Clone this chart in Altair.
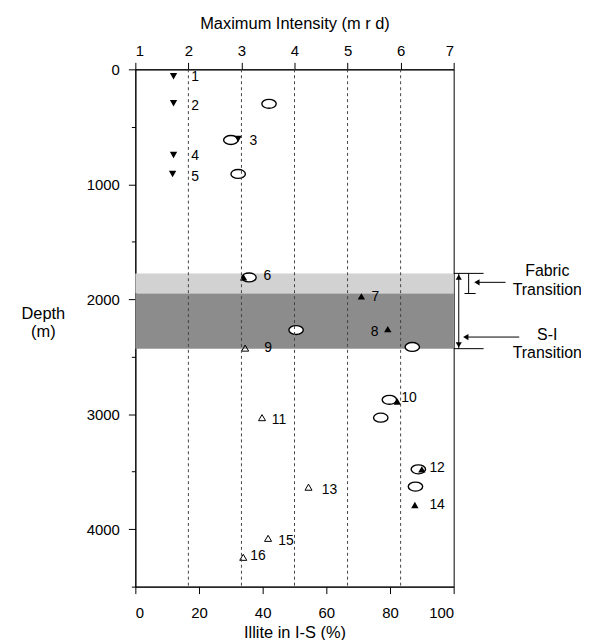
import altair as alt
import pandas as pd

# ---- data ----
down_x = [12, 12, 32.3, 12, 11.7]
down_y = [60, 295, 605, 745, 910]

up_x = [34, 71, 79.3, 82.3, 90, 87.8]
up_y = [1810, 1975, 2260, 2890, 3480, 3790]

open_x = [34.5, 39.8, 54.4, 41.7, 33.9]
open_y = [2425, 3030, 3635, 4080, 4245]

ell_x = [42, 30, 32.3, 35.7, 50.5, 87, 79.8, 77.1, 88.9, 88]
ell_y = [300, 615, 910, 1810, 2268, 2415, 2875, 3030, 3480, 3630]

lab_text = [str(i) for i in range(1, 17)]
lab_x = [18.8, 18.8, 37.1, 18.8, 18.8, 41.5, 75.4, 75.2, 41.7, 86, 45.1, 94.8, 61, 94.8, 47.3, 38.5]
lab_y = [70, 320, 625, 755, 940, 1800, 1980, 2285, 2425, 2860, 3050, 3470, 3660, 3790, 4105, 4235]

band_y1 = [1775, 1950]
band_y2 = [1950, 2430]
band_col = ["#d2d2d2", "#8c8c8c"]

intensity_lines = [2, 3, 4, 5, 6]

# annotation geometry (data units: % illite, depth m)
cap_x1 = [100, 100, 103.4]
cap_x2 = [109.4, 109.4, 106.9]
cap_y = [1775, 2430, 1950]
vbar_x = [101.6, 104.7]
vbar_y1 = [1775, 1775]
vbar_y2 = [2430, 1950]
arr_x1 = [107.4, 103.9]
arr_x2 = [116.3, 120.6]
arr_y = [1853, 2329]
head_x = [107.3, 103.8, 101.6, 101.6]
head_y = [1853, 2329, 1808, 2397]
head_shape = ["triangle-left", "triangle-left", "triangle-up", "triangle-down"]
ann_text = ["Fabric", "Transition", "S-I", "Transition"]
ann_x = [129.4, 129.4, 129.4, 129.4]
ann_y = [1758, 1922, 2312, 2468]

FONT = "Liberation Sans"
W, H = 320, 520

xs = alt.Scale(domain=[0, 100], nice=False)
ys = alt.Scale(domain=[0, 4500], nice=False, reverse=True)

bands = pd.DataFrame({"y1": band_y1, "y2": band_y2, "c": band_col, "x1": [0, 0], "x2": [100, 100]})
band_layer = alt.Chart(bands).mark_rect().encode(
    x=alt.X("x1:Q", scale=xs, axis=alt.Axis(
        values=list(range(0, 101, 10)),
        labelExpr="datum.value % 20 === 0 ? datum.label : ''",
        tickSize={"condition": {"test": "datum.value % 20 === 0", "value": 7}, "value": 4},
        tickColor="black", domainColor="black", labelColor="black",
        labelFont=FONT, labelFontSize=15, labelPadding=12,
        title="Illite in I-S (%)", titleFont=FONT, titleFontSize=16.5,
        titleFontWeight="normal", titleColor="black", titlePadding=4,
        grid=False, orient="bottom")),
    x2="x2:Q",
    y=alt.Y("y1:Q", scale=ys, axis=alt.Axis(
        values=list(range(0, 4501, 500)),
        labelExpr="(datum.value % 1000 === 0 && datum.value < 4500) ? datum.label : ''",
        tickSize={"condition": {"test": "datum.value % 1000 === 0", "value": 7}, "value": 4},
        format="d",
        tickColor="black", domainColor="black", labelColor="black",
        labelFont=FONT, labelFontSize=15, labelPadding=9,
        title=["Depth", "(m)"], titleFont=FONT, titleFontSize=16.5,
        titleFontWeight="normal", titleColor="black", titleAngle=0,
        titleAlign="center", titleBaseline="middle", titleX=-93, titleY=245,
        grid=False)),
    y2="y2:Q",
    color=alt.Color("c:N", scale=None),
)

ell_path = "M-1,0A1,0.62,0,1,1,1,0A1,0.62,0,1,1,-1,0Z"
ell = pd.DataFrame({"x": ell_x, "y": ell_y})
ell_layer = alt.Chart(ell).mark_point(
    shape=ell_path, size=210, filled=True, fill="white", stroke="black", strokeWidth=1.4, opacity=1
).encode(x=alt.X("x:Q", scale=xs), y=alt.Y("y:Q", scale=ys))

down = pd.DataFrame({"x": down_x, "y": down_y})
down_layer = alt.Chart(down).mark_point(
    shape="triangle-down", size=55, filled=True, color="black", opacity=1
).encode(x=alt.X("x:Q", scale=xs), y=alt.Y("y:Q", scale=ys))

up = pd.DataFrame({"x": up_x, "y": up_y})
up_layer = alt.Chart(up).mark_point(
    shape="triangle-up", size=55, filled=True, color="black", opacity=1
).encode(x=alt.X("x:Q", scale=xs), y=alt.Y("y:Q", scale=ys))

op = pd.DataFrame({"x": open_x, "y": open_y})
open_layer = alt.Chart(op).mark_point(
    shape="triangle-up", size=50, filled=False, stroke="black", strokeWidth=1, opacity=1
).encode(x=alt.X("x:Q", scale=xs), y=alt.Y("y:Q", scale=ys))

labs = pd.DataFrame({"t": lab_text, "x": lab_x, "y": lab_y})
lab_layer = alt.Chart(labs).mark_text(
    font=FONT, fontSize=14, color="black", align="center", baseline="middle"
).encode(x=alt.X("x:Q", scale=xs), y=alt.Y("y:Q", scale=ys), text="t:N")

caps = pd.DataFrame({"x1": cap_x1, "x2": cap_x2, "y": cap_y})
cap_layer = alt.Chart(caps).mark_rule(color="black", strokeWidth=1).encode(
    x=alt.X("x1:Q", scale=xs), x2="x2:Q", y=alt.Y("y:Q", scale=ys))

vbar = pd.DataFrame({"x": vbar_x, "y1": vbar_y1, "y2": vbar_y2})
vbar_layer = alt.Chart(vbar).mark_rule(color="black", strokeWidth=1).encode(
    x=alt.X("x:Q", scale=xs), y=alt.Y("y1:Q", scale=ys), y2="y2:Q")

arr = pd.DataFrame({"x1": arr_x1, "x2": arr_x2, "y": arr_y})
arr_layer = alt.Chart(arr).mark_rule(color="black", strokeWidth=1).encode(
    x=alt.X("x1:Q", scale=xs), x2="x2:Q", y=alt.Y("y:Q", scale=ys))

heads = pd.DataFrame({"x": head_x, "y": head_y, "s": head_shape})
head_layer = alt.Chart(heads).mark_point(size=38, filled=True, color="black", opacity=1).encode(
    x=alt.X("x:Q", scale=xs), y=alt.Y("y:Q", scale=ys),
    shape=alt.Shape("s:N", scale=None))

ann = pd.DataFrame({"t": ann_text, "x": ann_x, "y": ann_y})
ann_layer = alt.Chart(ann).mark_text(
    font=FONT, fontSize=16, color="black", align="center", baseline="middle"
).encode(x=alt.X("x:Q", scale=xs), y=alt.Y("y:Q", scale=ys), text="t:N")

base = alt.layer(band_layer, ell_layer, down_layer, up_layer, open_layer, lab_layer,
                 cap_layer, vbar_layer, arr_layer, head_layer, ann_layer)

idf = pd.DataFrame({"i": intensity_lines})
top_layer = alt.Chart(idf).mark_rule(color="#444444", strokeWidth=1, strokeDash=[3, 3]).encode(
    x=alt.X("i:Q", scale=alt.Scale(domain=[1, 7], nice=False), axis=alt.Axis(
        orient="top",
        values=[1, 1.5, 2, 2.5, 3, 3.5, 4, 4.5, 5, 5.5, 6, 6.5, 7],
        format="d",
        labelExpr="datum.value % 1 === 0 ? datum.label : ''",
        tickSize={"condition": {"test": "datum.value % 1 === 0", "value": 7}, "value": 4},
        tickColor="black", domainColor="black", labelColor="black",
        labelFont=FONT, labelFontSize=15, labelPadding=4,
        title="Maximum Intensity (m r d)", titleFont=FONT, titleFontSize=16.5,
        titleFontWeight="normal", titleColor="black", titlePadding=12,
        grid=False)),
)

chart = alt.layer(base, top_layer).resolve_scale(x="independent").properties(
    width=W, height=H,
    autosize=alt.AutoSizeParams(type="none"),
    padding={"left": 128, "top": 60, "right": 128, "bottom": 52},
    background="white",
).configure_view(stroke="black", strokeWidth=1)

chart.save("out.html", embed_options={"renderer": "svg", "actions": False})
